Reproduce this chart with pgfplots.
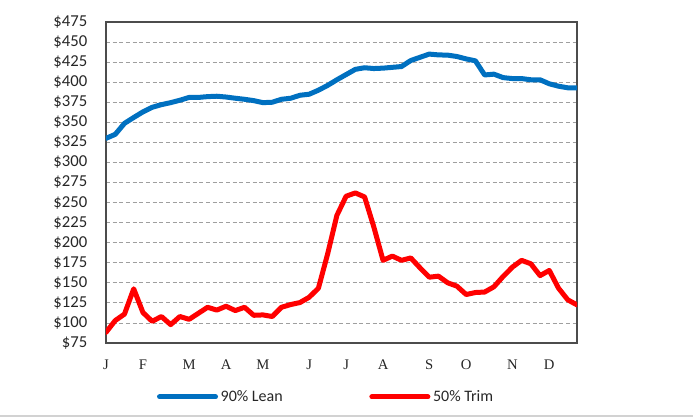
\documentclass[border=0pt]{standalone}
\usepackage{pgfplots}
\pgfplotsset{compat=1.18}
\usepackage{fontspec}
\setmainfont{Carlito}
\newfontfamily\monthfont{Liberation Serif}
\definecolor{leanblue}{RGB}{0,112,192}
\definecolor{trimred}{RGB}{255,0,0}
\begin{document}
\begin{tikzpicture}
\useasboundingbox (0pt,0pt) rectangle (519.75pt,312.75pt);
\draw[gray!35, line width=1.2pt] (0pt,0.75pt) -- (519.75pt,0.75pt);
\begin{axis}[
  at={(79.5pt,55.5pt)}, anchor=south west,
  scale only axis, width=353.25pt, height=240.75pt,
  xmin=0, xmax=51, ymin=75, ymax=475,
  ytick={75,100,...,475},
  yticklabels={\$75,\$100,\$125,\$150,\$175,\$200,\$225,\$250,\$275,\$300,\$325,\$350,\$375,\$400,\$425,\$450,\$475},
  xtick={0,4,9,13,17,22,26,30,35,39,44,48},
  xticklabels={J,F,M,A,M,J,J,A,S,O,N,D},
  major tick length=0pt,
  tick label style={font=\fontsize{12.5}{15}\selectfont, text=black!85},
  yticklabel style={xshift=-10.5pt},
  xticklabel style={font=\monthfont\fontsize{11}{13}\selectfont, yshift=-9pt},
  ymajorgrids,
  grid style={gray!75, densely dashed, line width=0.6pt},
  axis line style={draw=gray!60!black, line width=1.5pt},
  legend columns=2,
  legend style={at={(0.468,-0.168)}, anchor=center, draw=none, fill=none,
    font=\fontsize{12}{14}\selectfont, text=black!85,
    /tikz/every even column/.append style={column sep=63pt},
    nodes={inner sep=2pt}},
  legend image code/.code={\draw[#1, line width=3.75pt, line cap=round] (0pt,0pt) -- (42pt,0pt);},
  every axis plot/.append style={line width=3.75pt, line join=round, line cap=round},
]
\addplot[leanblue] coordinates {
(0,330) (1,335) (2,348.7) (3,356) (4,363) (5,368.7) (6,372) (7,374.5) (8,377.5) (9,381)
(10,381) (11,382) (12,382.5) (13,381.5) (14,380) (15,378.7) (16,377) (17,374.5) (18,375) (19,378.7)
(20,380) (21,383.7) (22,385) (23,390) (24,396) (25,403) (26,409.5) (27,416) (28,418) (29,417)
(30,417.5) (31,418.5) (32,419.5) (33,427) (34,431) (35,435) (36,434) (37,433.7) (38,432) (39,429)
(40,426.6) (41,409) (42,410) (43,405.7) (44,404.5) (45,404.5) (46,403) (47,403) (48,398) (49,395)
(50,393) (51,393)
};
\addlegendentry{90\% Lean}
\addplot[trimred] coordinates {
(0,88.3) (1,103) (2,111) (3,142.5) (4,113) (5,102) (6,108) (7,97.9) (8,108) (9,104.5)
(10,112) (11,119.5) (12,116) (13,120.8) (14,115.4) (15,119.5) (16,109.5) (17,110) (18,108) (19,119.5)
(20,122.9) (21,125.4) (22,132) (23,143.3) (24,186) (25,234) (26,257.9) (27,262) (28,257) (29,219.6)
(30,178) (31,183.3) (32,178) (33,181) (34,168.7) (35,157) (36,158.3) (37,150) (38,145.8) (39,135.4)
(40,137.9) (41,138.5) (42,145) (43,157.9) (44,169.5) (45,178) (46,173.7) (47,159) (48,165.4) (49,143.3)
(50,128.8) (51,122.5)
};
\addlegendentry{50\% Trim}
\end{axis}
\end{tikzpicture}
\end{document}
